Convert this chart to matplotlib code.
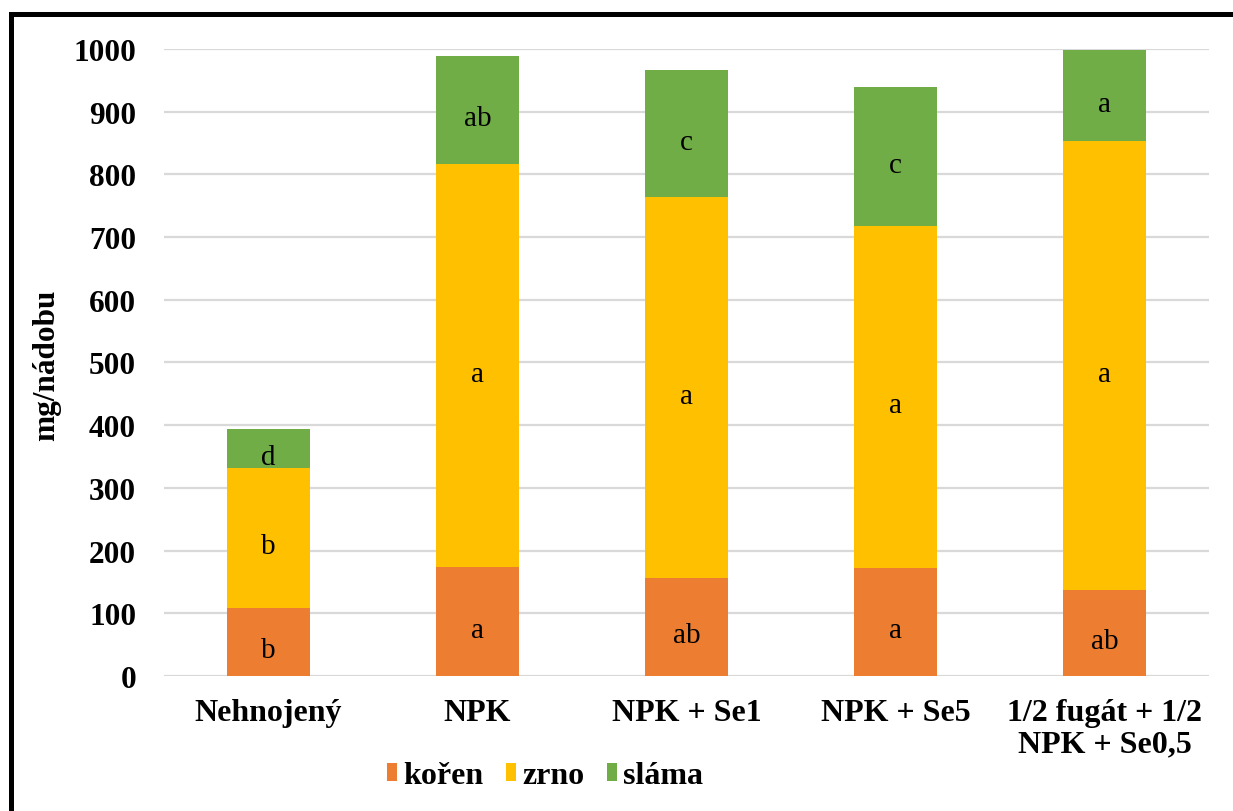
import matplotlib
matplotlib.use("Agg")
import matplotlib.pyplot as plt
from matplotlib.lines import Line2D
import numpy as np

plt.rcParams['font.family'] = ['Liberation Serif', 'DejaVu Serif']

categories = ["Nehnojený", "NPK", "NPK + Se1", "NPK + Se5", "1/2 fugát + 1/2\nNPK + Se0,5"]
koren = [108, 174, 157, 173, 137]
zrno = [224, 642, 607, 544, 717]
slama = [62, 173, 203, 223, 144]

koren_letters = ["b", "a", "ab", "a", "ab"]
zrno_letters = ["b", "a", "a", "a", "a"]
slama_letters = ["d", "ab", "c", "c", "a"]

series = [
    ("kořen", koren, koren_letters, "#ED7D31"),
    ("zrno", zrno, zrno_letters, "#FFC000"),
    ("sláma", slama, slama_letters, "#70AD47"),
]

fig = plt.figure(figsize=(12.33, 8.12), dpi=100)
ax = fig.add_axes([0.133, 0.1663, 0.8475, 0.7721])

x = np.arange(len(categories))
bottom = np.zeros(len(categories))
for name, vals, letters, color in series:
    vals = np.array(vals, dtype=float)
    ax.bar(x, vals, width=0.4, bottom=bottom, color=color, label=name, zorder=2)
    # significance letters in the middle of each segment
    for xi, b, v, t in zip(x, bottom, vals, letters):
        ax.annotate(t, (xi, b + v / 2), xytext=(0, -6), textcoords="offset points",
                    ha="center", va="center", fontsize=21, zorder=3)
    bottom += vals

ax.set_xlim(-0.5, len(categories) - 0.5)
ax.set_ylim(0, 1000)
ax.set_yticks(range(0, 1001, 100))
ax.yaxis.grid(True, color="#d9d9d9", linewidth=1.6, zorder=0)
ax.set_axisbelow(True)
for s in ax.spines.values():
    s.set_visible(False)
ax.tick_params(axis="both", length=0)
ax.tick_params(axis="y", pad=20, labelsize=22.5)
ax.tick_params(axis="x", pad=16, labelsize=23)
ax.set_xticks(x)
ax.set_xticklabels(categories, fontweight="bold", linespacing=1.1)
for lab in ax.get_yticklabels():
    lab.set_fontweight("bold")

fig.text(47 / 1233, 1 - 365 / 812, "mg/nádobu", rotation=90, ha="center", va="center",
         fontsize=22.5, fontweight="bold")

fig.legend(loc="center", bbox_to_anchor=(545 / 1233, 1 - 777 / 812), ncol=3, frameon=False,
           prop={"weight": "bold", "size": 23}, handlelength=0.32, handleheight=0.5,
           handletextpad=0.2, columnspacing=0.7)

# outer frame (left and top edges)
fig.add_artist(Line2D([10.5 / 1233, 10.5 / 1233], [0, 1 - 15 / 812], color="black", linewidth=3.6,
                      transform=fig.transFigure, solid_capstyle="projecting"))
fig.add_artist(Line2D([10.5 / 1233, 1.0], [1 - 15 / 812, 1 - 15 / 812], color="black", linewidth=3.6,
                      transform=fig.transFigure, solid_capstyle="projecting"))

fig.savefig("out.png", dpi=100)
